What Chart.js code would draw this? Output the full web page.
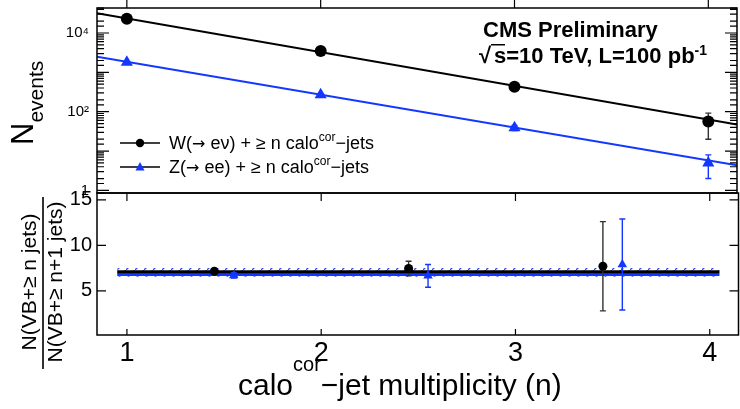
<!DOCTYPE html>
<html>
<head>
<meta charset="utf-8">
<script src="https://cdn.jsdelivr.net/npm/chart.js@4.4.1/dist/chart.umd.min.js"></script>
<style>
  html, body { margin: 0; padding: 0; background: #fff; overflow: hidden; }
  #wrap { position: relative; width: 740px; height: 409px; overflow: hidden; }
  canvas { position: absolute; left: 0; top: 0; }
</style>
</head>
<body>
<div id="wrap">
  <canvas id="ratioChart" width="744" height="409"></canvas>
  <canvas id="countChart" width="744" height="409"></canvas>
</div>
<script>
// jet multiplicity bins
const xTicks = [1, 2, 3, 4];
const xRange = [0.846, 4.148];

// N(events) with >= n jets
const nJets = [1, 2, 3, 4];
const wEvents = [23000, 3500, 430, 56];
const wErrors = [150, 60, 20, 36];
const zEvents = [1810, 269, 39, 5.0];
const zErrors = [45, 16, 6, 3];

// exponential fits, values at both ends of the x range
const fitX = [0.846, 4.148];
const wFit = [31700, 47.6];
const zFit = [2500, 4.34];

// ratio N(>= n) / N(>= n+1), W shifted left and Z shifted right of n + 0.5
const wRatioX = [1.45, 2.45, 3.45];
const wRatio = [7.15, 7.45, 7.7];
const wRatioErr = [0.2, 0.8, 4.9];
const zRatioX = [1.55, 2.55, 3.55];
const zRatio = [6.7, 6.65, 7.9];
const zRatioErr = [0.3, 1.25, 5.0];

// constant ratio from the fits, with the Z uncertainty band
const bandX = [0.95, 4.05];
const wRatioFit = [7.1, 7.1];
const zRatioFit = [6.8, 6.8];
const zBandHi = [7.5, 7.5];
const zBandLo = [6.55, 6.55];

// axis ticks
const logRange = [0.86, 43150];
const logLabelExp = [0, 2, 4];
const logLabelText = ['1', '10\u00b2', '10\u2074'];
const ratioRange = [0.15, 15.75];
const ratioTicks = [5, 10, 15];

const FONT = '"Liberation Sans", Arial, Helvetica, sans-serif';
const SYMBOL = '"DejaVu Sans", sans-serif';
const BLUE = '#1437ff';

const pts = (xs, ys) => xs.map((x, i) => ({ x: x, y: ys[i] }));

function hatch(color) {
  const c = document.createElement('canvas');
  c.width = 9; c.height = 9;
  const g = c.getContext('2d');
  g.strokeStyle = color;
  g.lineWidth = 1.3;
  g.beginPath();
  g.moveTo(-1, 10); g.lineTo(10, -1);
  g.stroke();
  return g.createPattern(c, 'repeat');
}

// text with sub/superscripts: parts = [{t, size, dy, bold, font}]
function rich(ctx, x, y, parts, measureOnly) {
  let cx = x;
  for (const p of parts) {
    ctx.font = (p.bold ? 'bold ' : '') + p.size + 'px ' + (p.font || FONT);
    if (!measureOnly) ctx.fillText(p.t, cx, y + (p.dy || 0));
    cx += ctx.measureText(p.t).width;
  }
  return cx - x;
}

// error bars, drawn under the markers of each dataset
const errorBars = {
  id: 'errorBars',
  beforeDatasetDraw(chart, args) {
    const ds = chart.data.datasets[args.index];
    if (!ds.errors) return;
    const { ctx, scales: { x, y } } = chart;
    ctx.save();
    ctx.strokeStyle = ds.errorColor || ds.borderColor;
    ctx.lineWidth = 1.4;
    ds.data.forEach((p, i) => {
      const e = ds.errors[i];
      const px = x.getPixelForValue(p.x);
      const y0 = y.getPixelForValue(p.y - e);
      const y1 = y.getPixelForValue(p.y + e);
      ctx.beginPath();
      ctx.moveTo(px, y0); ctx.lineTo(px, y1);
      ctx.moveTo(px - 3, y0); ctx.lineTo(px + 3, y0);
      ctx.moveTo(px - 3, y1); ctx.lineTo(px + 3, y1);
      ctx.stroke();
    });
    ctx.restore();
  }
};

// box around the pad and ROOT-style inner ticks
const frame = {
  id: 'frame',
  afterDraw(chart, args, o) {
    const { ctx, chartArea: a, scales: { x, y } } = chart;
    ctx.save();
    ctx.strokeStyle = '#000';
    ctx.lineWidth = 1.5;
    ctx.strokeRect(a.left, a.top, a.right - a.left, a.bottom - a.top);
    ctx.lineWidth = 1.2;
    ctx.beginPath();
    for (const v of xTicks) {
      const px = x.getPixelForValue(v);
      if (o.xTop) { ctx.moveTo(px, a.top); ctx.lineTo(px, a.top + o.xTop); }
      if (o.xBottom) { ctx.moveTo(px, a.bottom); ctx.lineTo(px, a.bottom - o.xBottom); }
    }
    for (const t of y.ticks) {
      if (t.value < y.min || t.value > y.max) continue;
      const len = o.isMajor(t.value) ? o.yMajor : o.yMinor;
      if (!len) continue;
      const py = y.getPixelForValue(t.value);
      ctx.moveTo(a.left, py); ctx.lineTo(a.left + len, py);
      ctx.moveTo(a.right, py); ctx.lineTo(a.right - len, py);
    }
    ctx.stroke();
    ctx.restore();
  }
};

// free text: titles, legend, labels
const annotations = {
  id: 'annotations',
  afterDraw(chart, args, o) {
    const ctx = chart.ctx;
    ctx.save();
    ctx.fillStyle = '#000';
    ctx.textAlign = 'left';
    ctx.textBaseline = 'alphabetic';
    o.draw(ctx, chart);
    ctx.restore();
  }
};

// keep the pad exactly where the layout padding puts it
const fixedAxis = (w, h) => s => {
  if (w) s.width = w;
  if (h) s.height = h;
  s.paddingTop = 0; s.paddingBottom = 0;
  s.paddingLeft = 0; s.paddingRight = 0;
};

const isDecade = v => Math.abs(Math.log10(v) - Math.round(Math.log10(v))) < 1e-6;

// ---- upper pad: event counts
new Chart(document.getElementById('countChart'), {
  type: 'scatter',
  data: {
    datasets: [
      { data: pts(nJets, wEvents), errors: wErrors, errorColor: '#333',
        pointStyle: 'circle', pointRadius: 6, backgroundColor: '#000', borderColor: '#000', borderWidth: 0 },
      { data: pts(nJets, zEvents), errors: zErrors, errorColor: BLUE,
        pointStyle: 'triangle', pointRadius: 7, backgroundColor: BLUE, borderColor: BLUE, borderWidth: 0 },
      { data: pts(fitX, wFit), showLine: true, borderColor: '#000', borderWidth: 2, pointRadius: 0 },
      { data: pts(fitX, zFit), showLine: true, borderColor: BLUE, borderWidth: 2, pointRadius: 0 }
    ]
  },
  options: {
    responsive: false,
    devicePixelRatio: 1,
    animation: false,
    layout: { padding: { top: 8, right: 2, bottom: 216, left: 0 } },
    plugins: {
      legend: { display: false },
      tooltip: { enabled: false },
      frame: { xTop: -8, xBottom: 0, yMajor: 12, yMinor: 7, isMajor: isDecade },
      annotations: {
        draw(ctx) {
          // y title
          ctx.save();
          ctx.translate(33, 145);
          ctx.rotate(-Math.PI / 2);
          rich(ctx, 0, 0, [{ t: 'N', size: 31 }, { t: 'events', size: 21, dy: 10 }]);
          ctx.restore();

          // experiment label
          rich(ctx, 483, 37, [{ t: 'CMS Preliminary', size: 22, bold: true }]);
          rich(ctx, 479, 63, [{ t: '\u221a', size: 22, bold: true }]);
          ctx.fillRect(491, 44, 14, 1.5);
          rich(ctx, 494, 63, [
            { t: 's=10 TeV, L=100 pb', size: 22, bold: true },
            { t: '-1', size: 14, dy: -8, bold: true }
          ]);

          // legend
          const rows = [
            { y: 143, color: '#000', style: 'circle', pre: 'W(', post: ' e\u03bd) + \u2265 n calo' },
            { y: 167, color: BLUE, style: 'triangle', pre: 'Z(', post: ' ee) + \u2265 n calo' }
          ];
          for (const r of rows) {
            ctx.strokeStyle = '#000';
            ctx.lineWidth = 1.5;
            ctx.beginPath();
            ctx.moveTo(120, r.y); ctx.lineTo(160, r.y);
            ctx.stroke();
            ctx.fillStyle = r.color;
            ctx.beginPath();
            if (r.style === 'circle') {
              ctx.arc(140, r.y, 4.2, 0, Math.PI * 2);
            } else {
              ctx.moveTo(140, r.y - 5); ctx.lineTo(144.5, r.y + 3.5); ctx.lineTo(135.5, r.y + 3.5);
              ctx.closePath();
            }
            ctx.fill();
            ctx.fillStyle = '#000';
            rich(ctx, 169, r.y + 6, [
              { t: r.pre, size: 18 },
              { t: '\u2192', size: 16, font: SYMBOL },
              { t: r.post, size: 18 },
              { t: 'cor', size: 12, dy: -8 },
              { t: '\u2212jets', size: 18 }
            ]);
          }
        }
      }
    },
    scales: {
      x: { type: 'linear', display: false, min: xRange[0], max: xRange[1] },
      y: {
        type: 'logarithmic', position: 'left', min: logRange[0], max: logRange[1],
        afterFit: fixedAxis(97, 0),
        grid: { display: false, drawTicks: false },
        border: { display: false },
        ticks: {
          autoSkip: false, padding: 8, color: '#000',
          font: { family: FONT, size: 15 },
          callback: v => {
            if (!isDecade(v)) return '';
            const k = logLabelExp.indexOf(Math.round(Math.log10(v)));
            return k < 0 ? '' : logLabelText[k];
          }
        }
      }
    }
  },
  plugins: [errorBars, frame, annotations]
});

// ---- lower pad: ratio of consecutive multiplicities
new Chart(document.getElementById('ratioChart'), {
  type: 'scatter',
  data: {
    datasets: [
      { data: pts(wRatioX, wRatio), errors: wRatioErr, errorColor: '#333',
        pointStyle: 'circle', pointRadius: 4.5, backgroundColor: '#000', borderColor: '#000', borderWidth: 0 },
      { data: pts(zRatioX, zRatio), errors: zRatioErr, errorColor: BLUE,
        pointStyle: 'triangle', pointRadius: 5.5, backgroundColor: BLUE, borderColor: BLUE, borderWidth: 0 },
      { data: pts(bandX, wRatioFit), showLine: true, borderColor: '#000', borderWidth: 3, pointRadius: 0 },
      { data: pts(bandX, zRatioFit), showLine: true, borderColor: BLUE, borderWidth: 3, pointRadius: 0 },
      { data: pts(bandX, zBandHi), showLine: true, borderWidth: 0, pointRadius: 0,
        fill: '+1', backgroundColor: hatch('#2a4cff') },
      { data: pts(bandX, zBandLo), showLine: true, borderWidth: 0, pointRadius: 0, fill: false }
    ]
  },
  options: {
    responsive: false,
    devicePixelRatio: 1,
    animation: false,
    layout: { padding: { top: 193, right: 2, bottom: 0, left: 0 } },
    plugins: {
      legend: { display: false },
      tooltip: { enabled: false },
      filler: { propagate: false },
      frame: { xTop: 8, xBottom: 6, yMajor: 9, yMinor: 0, isMajor: v => ratioTicks.includes(v) },
      annotations: {
        draw(ctx) {
          // y title as a fraction
          const num = [{ t: 'N(VB+\u2265 n jets)', size: 21 }];
          const den = [{ t: 'N(VB+\u2265 n+1 jets)', size: 21 }];
          ctx.save();
          ctx.translate(0, 282);
          ctx.rotate(-Math.PI / 2);
          let w = rich(ctx, 0, 0, num, true);
          rich(ctx, -w / 2, 36, num);
          w = rich(ctx, 0, 0, den, true);
          rich(ctx, -w / 2, 62, den);
          ctx.fillRect(-87, 42.2, 172, 1.6);
          ctx.restore();

          // x title
          rich(ctx, 238, 395, [
            { t: 'calo', size: 30 },
            { t: 'cor', size: 20, dy: -24 },
            { t: '\u2212jet multiplicity (n)', size: 30 }
          ]);
        }
      }
    },
    scales: {
      x: {
        type: 'linear', position: 'bottom', min: xRange[0], max: xRange[1],
        afterFit: fixedAxis(0, 74),
        grid: { display: false, drawTicks: false },
        border: { display: false },
        ticks: {
          stepSize: 1, includeBounds: false, padding: 2, color: '#000',
          font: { family: FONT, size: 27 },
          callback: v => xTicks.includes(v) ? String(v) : ''
        }
      },
      y: {
        type: 'linear', position: 'left', min: ratioRange[0], max: ratioRange[1],
        afterFit: fixedAxis(97, 0),
        grid: { display: false, drawTicks: false },
        border: { display: false },
        ticks: {
          stepSize: 5, includeBounds: false, padding: 5, color: '#000',
          font: { family: FONT, size: 20 },
          callback: v => ratioTicks.includes(v) ? String(v) : ''
        }
      }
    }
  },
  plugins: [errorBars, frame, annotations]
});
</script>
</body>
</html>
